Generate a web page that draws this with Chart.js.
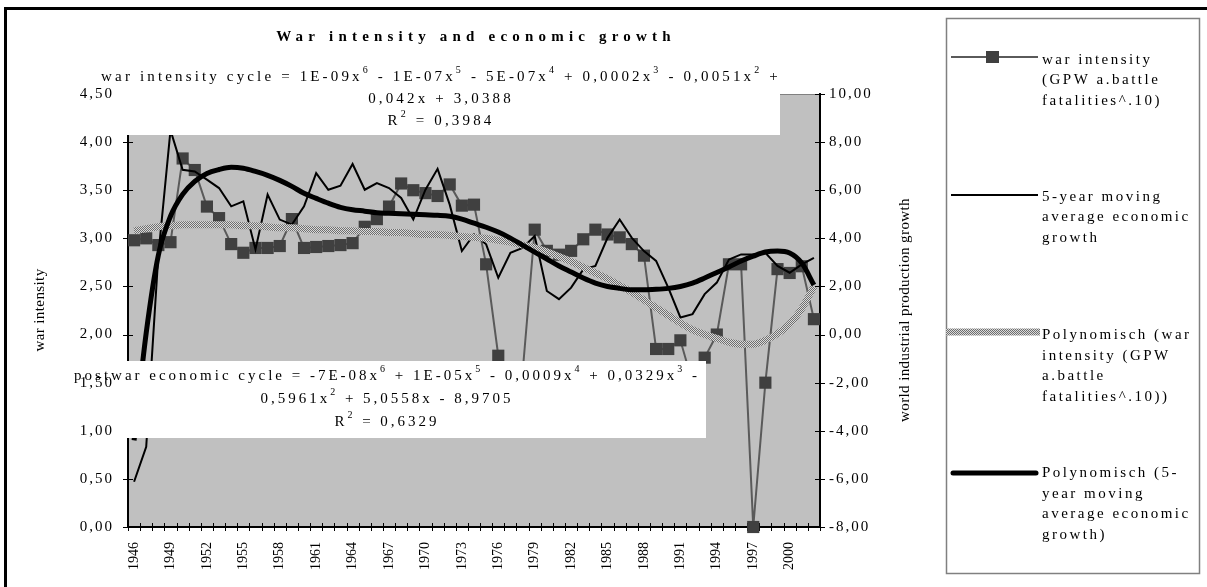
<!DOCTYPE html>
<html>
<head>
<meta charset="utf-8">
<script src="https://cdn.jsdelivr.net/npm/chart.js@4.4.0/dist/chart.umd.min.js"></script>
<style>
  html, body { margin: 0; padding: 0; background: #fff; }
  canvas { display: block; }
</style>
</head>
<body>
<canvas id="canvas" width="1207" height="587"></canvas>
<script>
var years = ['1946','1947','1948','1949','1950','1951','1952','1953','1954','1955',
             '1956','1957','1958','1959','1960','1961','1962','1963','1964','1965',
             '1966','1967','1968','1969','1970','1971','1972','1973','1974','1975',
             '1976','1977','1978','1979','1980','1981','1982','1983','1984','1985',
             '1986','1987','1988','1989','1990','1991','1992','1993','1994','1995',
             '1996','1997','1998','1999','2000','2001','2002'];
var yearLabels = ['1946','1949','1952','1955','1958','1961','1964','1967','1970','1973',
                  '1976','1979','1982','1985','1988','1991','1994','1997','2000'];

// war intensity (GPW a.battle fatalities^.10), left axis
var warIntensity = [2.98, 3.00, 2.93, 2.96, 3.83, 3.71, 3.33, 3.21, 2.94, 2.85,
                    2.90, 2.90, 2.92, 3.20, 2.90, 2.91, 2.92, 2.93, 2.95, 3.12,
                    3.20, 3.33, 3.57, 3.50, 3.47, 3.44, 3.56, 3.34, 3.35, 2.73,
                    1.78, 1.40, 1.60, 3.09, 2.87, 2.83, 2.87, 2.99, 3.09, 3.04,
                    3.01, 2.94, 2.82, 1.85, 1.85, 1.94, 1.50, 1.76, 2.00, 2.73,
                    2.73, 0.00, 1.50, 2.68, 2.64, 2.71, 2.16];
// 5-year moving average economic growth, right axis
var growthMA5 = [-6.12, -4.67, 3.30, 8.50, 6.85, 6.78, 6.44, 6.09, 5.33, 5.54,
                 3.54, 5.82, 4.78, 4.57, 5.33, 6.71, 6.02, 6.19, 7.09, 6.02,
                 6.30, 6.09, 5.68, 4.78, 6.02, 6.89, 5.40, 3.47, 4.16, 3.75,
                 2.36, 3.40, 3.60, 4.10, 1.81, 1.47, 1.95, 2.71, 2.85, 4.02,
                 4.78, 4.02, 3.47, 3.06, 1.95, 0.71, 0.85, 1.68, 2.16, 3.12,
                 3.33, 3.33, 3.40, 2.85, 2.57, 2.92, 3.19];
// polynomial trend of war intensity
var warTrend = [3.08, 3.10, 3.12, 3.13, 3.14, 3.14, 3.14, 3.14, 3.14, 3.13,
                3.13, 3.12, 3.11, 3.11, 3.10, 3.09, 3.09, 3.08, 3.08, 3.07,
                3.07, 3.06, 3.06, 3.05, 3.04, 3.04, 3.03, 3.02, 3.01, 3.00,
                2.98, 2.96, 2.93, 2.90, 2.86, 2.81, 2.76, 2.70, 2.64, 2.58,
                2.51, 2.44, 2.36, 2.28, 2.20, 2.12, 2.05, 2.00, 1.96, 1.92,
                1.90, 1.90, 1.94, 2.01, 2.11, 2.27, 2.50];
// polynomial trend of economic growth
var growthTrend = [-4.40, 0.07, 3.30, 4.92, 5.83, 6.37, 6.70, 6.86, 6.95, 6.91,
                   6.78, 6.62, 6.41, 6.16, 5.87, 5.66, 5.46, 5.29, 5.19, 5.13,
                   5.06, 5.04, 5.02, 5.00, 4.98, 4.96, 4.92, 4.80, 4.63, 4.46,
                   4.26, 4.01, 3.72, 3.43, 3.14, 2.85, 2.60, 2.35, 2.14, 2.00,
                   1.92, 1.86, 1.86, 1.88, 1.92, 2.00, 2.14, 2.35, 2.58, 2.81,
                   3.06, 3.26, 3.43, 3.47, 3.39, 2.97, 2.06];

var seriesNames = [
    ['war intensity', '(GPW a.battle', 'fatalities^.10)'],
    ['5-year moving', 'average economic', 'growth'],
    ['Polynomisch (war', 'intensity (GPW', 'a.battle', 'fatalities^.10))'],
    ['Polynomisch (5-', 'year moving', 'average economic', 'growth)']
];
var warEquation = ['war intensity cycle = 1E-09x{6} - 1E-07x{5} - 5E-07x{4} + 0,0002x{3} - 0,0051x{2} +',
                   '0,042x + 3,0388', 'R{2} = 0,3984'];
var growthEquation = ['postwar economic cycle = -7E-08x{6} + 1E-05x{5} - 0,0009x{4} + 0,0329x{3} -',
                      '0,5961x{2} + 5,0558x - 8,9705', 'R{2} = 0,6329'];

var SERIF = '"Liberation Serif", "Times New Roman", serif';

var ctx = document.getElementById('canvas').getContext('2d');

function spacing(c, px) { if ('letterSpacing' in c) c.letterSpacing = px + 'px'; }

// checker pattern for the grey trend band
function bandPattern() {
    var c = document.createElement('canvas');
    c.width = 2; c.height = 2;
    var g = c.getContext('2d');
    g.fillStyle = '#dadada'; g.fillRect(0, 0, 2, 2);
    g.fillStyle = '#6e6e6e'; g.fillRect(0, 0, 1, 1); g.fillRect(1, 1, 1, 1);
    return ctx.createPattern(c, 'repeat');
}
var band = bandPattern();

function drawRich(c, text, cx, cy, size, sp) {
    var parts = text.split(/\{(\d)\}/);
    var big = size + 'px ' + SERIF, small = Math.round(size * 0.68) + 'px ' + SERIF;
    var widths = [], w = 0, i;
    spacing(c, sp);
    for (i = 0; i < parts.length; i++) {
        c.font = i % 2 ? small : big;
        widths[i] = c.measureText(parts[i]).width;
        w += widths[i];
    }
    var x = cx - w / 2;
    c.textAlign = 'left';
    c.textBaseline = 'middle';
    for (i = 0; i < parts.length; i++) {
        c.font = i % 2 ? small : big;
        c.fillText(parts[i], x, i % 2 ? cy - size * 0.42 : cy);
        x += widths[i];
    }
}

function drawLines(c, lines, x, y0, step) {
    for (var i = 0; i < lines.length; i++) c.fillText(lines[i], x, y0 + i * step);
}

var decor = {
    id: 'decor',
    beforeDraw: function(chart) {
        var c = chart.ctx, a = chart.chartArea;
        c.save();
        c.fillStyle = '#fff';
        c.fillRect(0, 0, chart.width, chart.height);
        c.fillStyle = '#c0c0c0';
        c.fillRect(a.left, a.top, a.right - a.left, a.bottom - a.top);
        c.strokeStyle = '#808080';
        c.lineWidth = 1;
        c.beginPath(); c.moveTo(a.left, a.top + 0.5); c.lineTo(a.right, a.top + 0.5); c.stroke();
        c.restore();
        spacing(c, 2.0);
    },
    beforeDatasetsDraw: function(chart) {
        var c = chart.ctx, a = chart.chartArea;
        var x = chart.scales.x, y = chart.scales.y, y2 = chart.scales.y2;
        c.save();
        c.strokeStyle = '#000';
        c.lineWidth = 1;
        c.beginPath();
        y.ticks.forEach(function(t) {
            var p = Math.round(y.getPixelForValue(t.value)) + 0.5;
            c.moveTo(a.left - 5, p); c.lineTo(a.left + 5, p);
        });
        y2.ticks.forEach(function(t) {
            var p = Math.round(y2.getPixelForValue(t.value)) + 0.5;
            c.moveTo(a.right - 5, p); c.lineTo(a.right + 5, p);
        });
        var half = (x.getPixelForValue(1) - x.getPixelForValue(0)) / 2;
        for (var i = 0; i <= years.length; i++) {
            var px = Math.round(i < years.length ? x.getPixelForValue(i) - half : x.getPixelForValue(i - 1) + half) + 0.5;
            c.moveTo(px, a.bottom - 4); c.lineTo(px, a.bottom + 4);
        }
        c.stroke();
        c.restore();
    },
    afterDatasetsDraw: function(chart) {
        spacing(chart.ctx, 0);
    },
    afterDraw: function(chart) {
        var c = chart.ctx, a = chart.chartArea;
        c.save();
        c.fillStyle = '#000';

        // trendline equation labels (white boxes over the plot)
        c.fillStyle = '#fff';
        c.fillRect(a.left - 8, 64, 780 - (a.left - 8), 135 - 64);
        c.fillRect(a.left - 8, 361, 706 - (a.left - 8), 438 - 361);
        c.fillStyle = '#000';
        for (var i = 0; i < 3; i++) {
            drawRich(c, warEquation[i], 441, 77 + i * 22, 15, 3.15);
            drawRich(c, growthEquation[i], 387, 376 + i * 23, 15, 3.0);
        }

        // title
        spacing(c, 5.2);
        c.font = 'bold 15px ' + SERIF;
        c.textAlign = 'center';
        c.textBaseline = 'middle';
        c.fillText('War intensity and economic growth', 476, 37);

        // axis titles
        spacing(c, 0.4);
        c.font = '15px ' + SERIF;
        c.save();
        c.translate(40, 310); c.rotate(-Math.PI / 2);
        c.fillText('war intensity', 0, 0);
        c.restore();
        c.save();
        c.translate(905, 310); c.rotate(-Math.PI / 2);
        c.fillText('world industrial production growth', 0, 0);
        c.restore();

        // legend
        c.strokeStyle = '#808080';
        c.lineWidth = 1.5;
        c.strokeRect(946.5, 18.5, 1199 - 946, 573 - 18);
        c.lineCap = 'butt';
        c.strokeStyle = '#5a5a5a'; c.lineWidth = 2;
        c.beginPath(); c.moveTo(951, 57); c.lineTo(1038, 57); c.stroke();
        c.fillStyle = '#404040'; c.fillRect(986, 51, 13, 12);
        c.strokeStyle = '#000'; c.lineWidth = 2;
        c.beginPath(); c.moveTo(951, 195); c.lineTo(1038, 195); c.stroke();
        c.strokeStyle = band; c.lineWidth = 7;
        c.beginPath(); c.moveTo(946, 332); c.lineTo(1040, 332); c.stroke();
        c.strokeStyle = '#000'; c.lineWidth = 5; c.lineCap = 'round';
        c.beginPath(); c.moveTo(953, 473); c.lineTo(1036, 473); c.stroke();

        c.fillStyle = '#000';
        spacing(c, 2.5);
        c.font = '15px ' + SERIF;
        c.textAlign = 'left';
        c.textBaseline = 'middle';
        drawLines(c, seriesNames[0], 1042, 60, 20.5);
        drawLines(c, seriesNames[1], 1042, 197, 20.5);
        drawLines(c, seriesNames[2], 1042, 335, 20.7);
        drawLines(c, seriesNames[3], 1042, 473, 20.7);

        // outer frame
        c.strokeStyle = '#000';
        c.lineWidth = 3;
        c.strokeRect(5.5, 8.5, 1215, 600);
        c.restore();
    }
};

function comma(v) { return Number(v).toFixed(2).replace('.', ','); }

var myChart = new Chart(ctx, {
    type: 'line',
    data: {
        labels: years,
        datasets: [{
            label: seriesNames[0].join(' '),
            data: warIntensity,
            yAxisID: 'y',
            borderColor: '#5a5a5a',
            borderWidth: 2,
            pointStyle: 'rect',
            pointRadius: 8.6,
            pointBackgroundColor: '#404040',
            pointBorderWidth: 0,
            tension: 0,
            clip: false,
            order: 4
        }, {
            label: seriesNames[1].join(' '),
            data: growthMA5,
            yAxisID: 'y2',
            borderColor: '#000',
            borderWidth: 2,
            pointRadius: 0,
            tension: 0,
            clip: false,
            order: 3
        }, {
            label: seriesNames[2].join(' '),
            data: warTrend,
            yAxisID: 'y',
            borderColor: band,
            borderWidth: 7,
            pointRadius: 0,
            cubicInterpolationMode: 'monotone',
            clip: false,
            order: 2
        }, {
            label: seriesNames[3].join(' '),
            data: growthTrend,
            yAxisID: 'y2',
            borderColor: '#000',
            borderWidth: 5,
            pointRadius: 0,
            cubicInterpolationMode: 'monotone',
            clip: false,
            order: 1
        }]
    },
    options: {
        responsive: false,
        animation: false,
        events: [],
        layout: { padding: { top: 94, left: 0, right: 0, bottom: 0 } },
        plugins: { legend: { display: false }, title: { display: false }, tooltip: { enabled: false } },
        scales: {
            x: {
                type: 'category',
                offset: true,
                grid: { display: true, drawOnChartArea: false, drawTicks: false },
                border: { display: true, color: '#000', width: 2 },
                ticks: {
                    z: 1,
                    autoSkip: false,
                    maxRotation: 90,
                    minRotation: 90,
                    padding: 15,
                    color: '#000',
                    font: { family: SERIF, size: 14 },
                    callback: function(v, i) {
                        var lab = years[i];
                        return yearLabels.indexOf(lab) >= 0 ? lab : '';
                    }
                },
                afterFit: function(s) { s.height = 60; }
            },
            y: {
                position: 'left',
                min: 0,
                max: 4.5,
                grid: { display: true, drawOnChartArea: false, drawTicks: false },
                border: { display: true, color: '#000', width: 2 },
                ticks: {
                    stepSize: 0.5,
                    padding: 14,
                    color: '#000',
                    font: { family: SERIF, size: 15 },
                    callback: comma
                },
                afterFit: function(s) { s.width = 128; }
            },
            y2: {
                position: 'right',
                min: -8,
                max: 10,
                grid: { display: true, drawOnChartArea: false, drawTicks: false },
                border: { display: true, color: '#000', width: 2 },
                ticks: {
                    stepSize: 2,
                    padding: 9,
                    color: '#000',
                    font: { family: SERIF, size: 15 },
                    callback: comma
                },
                afterFit: function(s) { s.width = 387; }
            }
        }
    },
    plugins: [decor]
});
</script>
</body>
</html>
